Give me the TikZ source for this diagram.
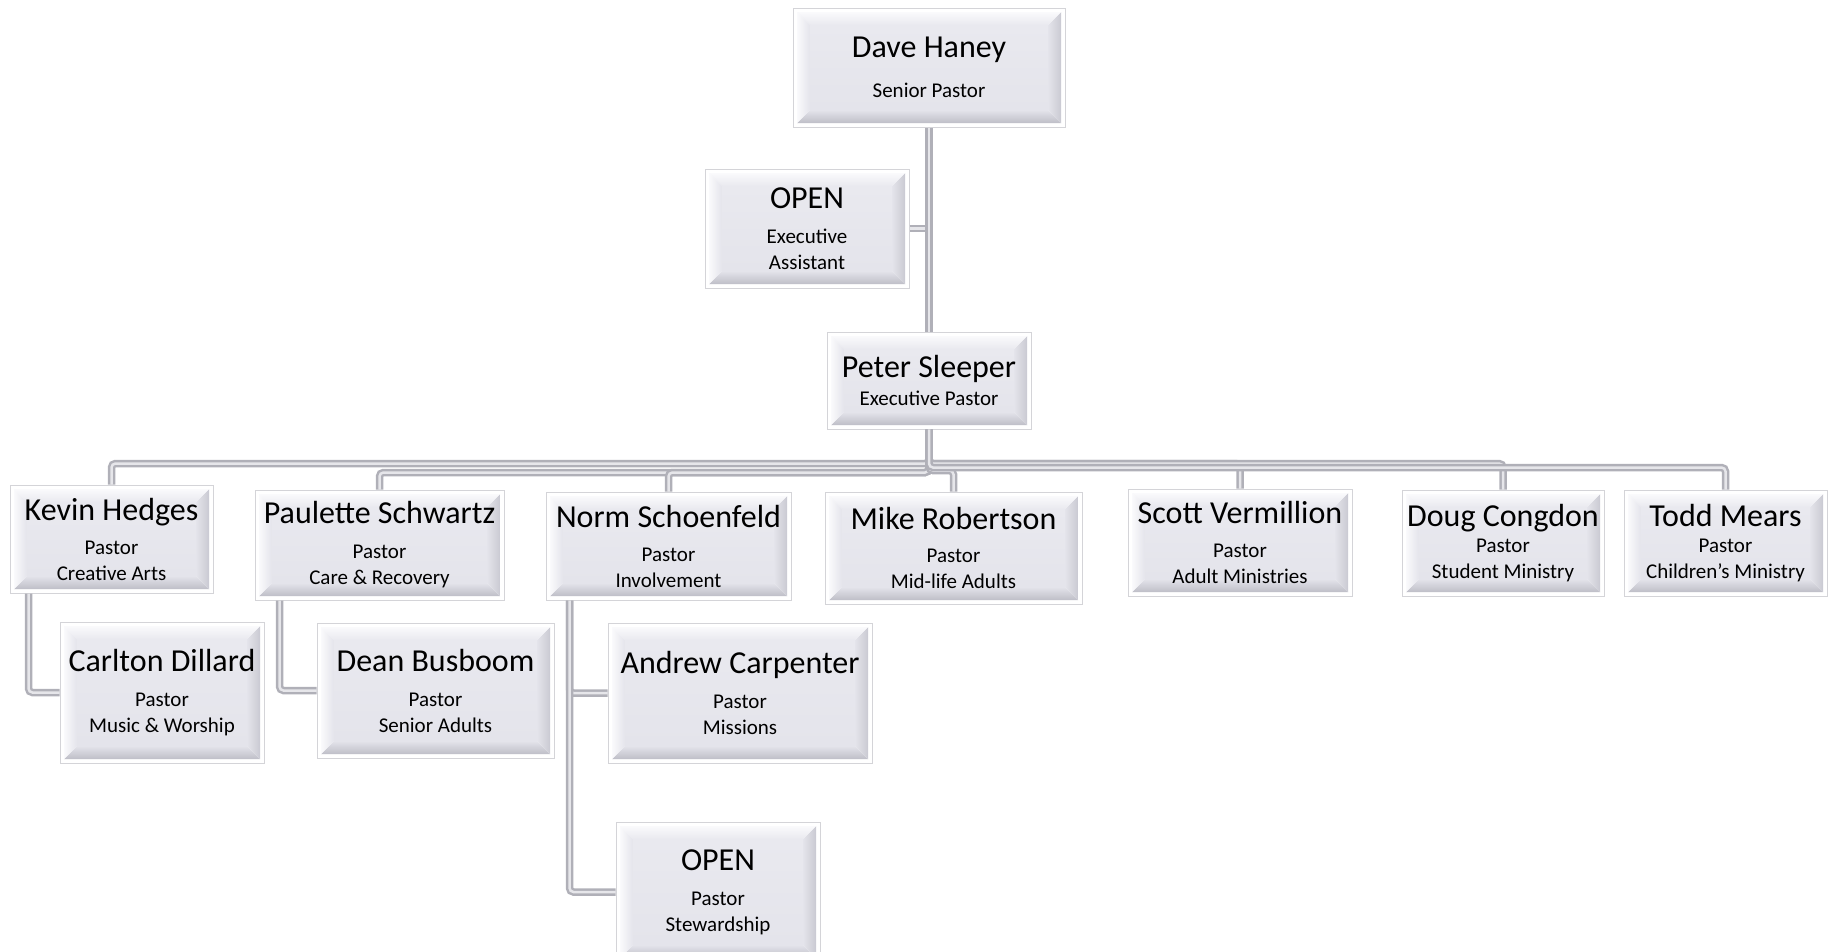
\documentclass[tikz,border=0pt]{standalone}
\usepackage{fontspec}
\setmainfont{Carlito}
\usetikzlibrary{calc}

\definecolor{framegray}{HTML}{D4D4D8}
\definecolor{facegray}{HTML}{E4E4EB}
\definecolor{facetop}{HTML}{E9E9EF}
\definecolor{bevlight}{HTML}{FAFAFC}
\definecolor{bevdark}{HTML}{BEBEC7}
\definecolor{pipegray}{HTML}{B0B0B8}
\definecolor{pipelight}{HTML}{E6E6EA}

\newcommand{\bigname}[1]{{\fontsize{32}{36}\selectfont #1}}

\tikzset{
  staff/.style={draw=framegray, line width=1pt, fill=white, inner sep=0pt,
    align=center, font=\fontsize{21}{26}\selectfont,
    path picture={
      \coordinate (b1) at ($(path picture bounding box.south west)+(4pt,4pt)$);
      \coordinate (b2) at ($(path picture bounding box.south east)+(-4pt,4pt)$);
      \coordinate (b3) at ($(path picture bounding box.north east)+(-4pt,-4pt)$);
      \coordinate (b4) at ($(path picture bounding box.north west)+(4pt,-4pt)$);
      \coordinate (f1) at ($(b1)+(13pt,13pt)$);
      \coordinate (f2) at ($(b2)+(-13pt,13pt)$);
      \coordinate (f3) at ($(b3)+(-13pt,-13pt)$);
      \coordinate (f4) at ($(b4)+(13pt,-13pt)$);
      \shade[top color=facegray, bottom color=bevdark] (b1) -- (b2) -- (f2) -- (f1) -- cycle;
      \shade[left color=facegray, right color=bevdark!70!facegray] (b2) -- (b3) -- (f3) -- (f2) -- cycle;
      \shade[top color=bevlight, bottom color=facetop] (b3) -- (b4) -- (f4) -- (f3) -- cycle;
      \shade[left color=bevlight, right color=facegray] (b4) -- (b1) -- (f1) -- (f4) -- cycle;
      \shade[top color=facetop, bottom color=facegray] (f1) rectangle (f3);
    }},
  pipe/.style={draw=pipegray, line width=2.5pt, double=pipelight,
    double distance=2.5pt, rounded corners=4pt}
}

\begin{document}
\begin{tikzpicture}[x=1pt, y=-1pt]
  \useasboundingbox (0,0) rectangle (1833,951);
  \clip (0,0) rectangle (1833,951);

  \node (dave) at (929,67.5) [staff, minimum width=272, minimum height=119] {\bigname{Dave Haney}\\[14pt]Senior Pastor};
  \node (asst) at (807,228.5) [staff, minimum width=204, minimum height=119] {\bigname{OPEN}\\[9pt]Executive\\Assistant};
  \node (peter) at (929,380.5) [staff, minimum width=204, minimum height=97] {\bigname{Peter Sleeper}\\[2pt]Executive Pastor};

  \node (kevin) at (111.5,539) [staff, minimum width=203, minimum height=108] {\bigname{Kevin Hedges}\\[8pt]Pastor\\Creative Arts};
  \node (paulette) at (379.5,545) [staff, minimum width=249, minimum height=110] {\bigname{Paulette Schwartz}\\[9pt]Pastor\\Care \& Recovery};
  \node (norm) at (668.5,546) [staff, minimum width=245, minimum height=108] {\bigname{Norm Schoenfeld}\\[8pt]Pastor\\Involvement};
  \node (mike) at (953.5,548) [staff, minimum width=257, minimum height=112] {\bigname{Mike Robertson}\\[7pt]Pastor\\Mid-life Adults};
  \node (scott) at (1240,542.5) [staff, minimum width=224, minimum height=107] {\bigname{Scott Vermillion}\\[8pt]Pastor\\Adult Ministries};
  \node (doug) at (1503,543) [staff, minimum width=202, minimum height=106] {\bigname{Doug Congdon}\\[0pt]Pastor\\Student Ministry};
  \node (todd) at (1725.5,543) [staff, minimum width=203, minimum height=106] {\bigname{Todd Mears}\\[0pt]Pastor\\Children’s Ministry};

  \node (carlton) at (162,692.5) [staff, minimum width=204, minimum height=141] {\bigname{Carlton Dillard}\\[9pt]Pastor\\Music \& Worship};
  \node (dean) at (435.5,690.5) [staff, minimum width=237, minimum height=135] {\bigname{Dean Busboom}\\[9pt]Pastor\\Senior Adults};
  \node (andrew) at (740,693) [staff, minimum width=264, minimum height=140] {\bigname{Andrew Carpenter}\\[9pt]Pastor\\Missions};
  \node (stew) at (718,892) [staff, minimum width=204, minimum height=140] {\bigname{OPEN}\\[9pt]Pastor\\Stewardship};

  \draw[pipe] (asst.east) -- (asst.east -| dave.south);
  \draw[pipe] (dave.south) -- (peter.north);

  \draw[pipe] (peter.south) -- ++(0,34) -| (kevin.north);
  \draw[pipe] (peter.south) -- ++(0,43) -| (paulette.north);
  \draw[pipe] (peter.south) -- ++(0,43) -| (norm.north);
  \draw[pipe] (peter.south) -- ++(0,41) -| (mike.north);
  \draw[pipe] (peter.south) -- ++(0,34) -| (scott.north);
  \draw[pipe] (peter.south) -- ++(0,34) -| (doug.north);
  \draw[pipe] (peter.south) -- ++(0,38) -| (todd.north);

  \draw[pipe] (kevin.south west) ++(19,0) |- (carlton.west);
  \draw[pipe] (paulette.south west) ++(25,0) |- (dean.west);
  \draw[pipe] (norm.south west) ++(24,0) |- (andrew.west);
  \draw[pipe] (norm.south west) ++(24,0) |- (stew.west);
\end{tikzpicture}
\end{document}
